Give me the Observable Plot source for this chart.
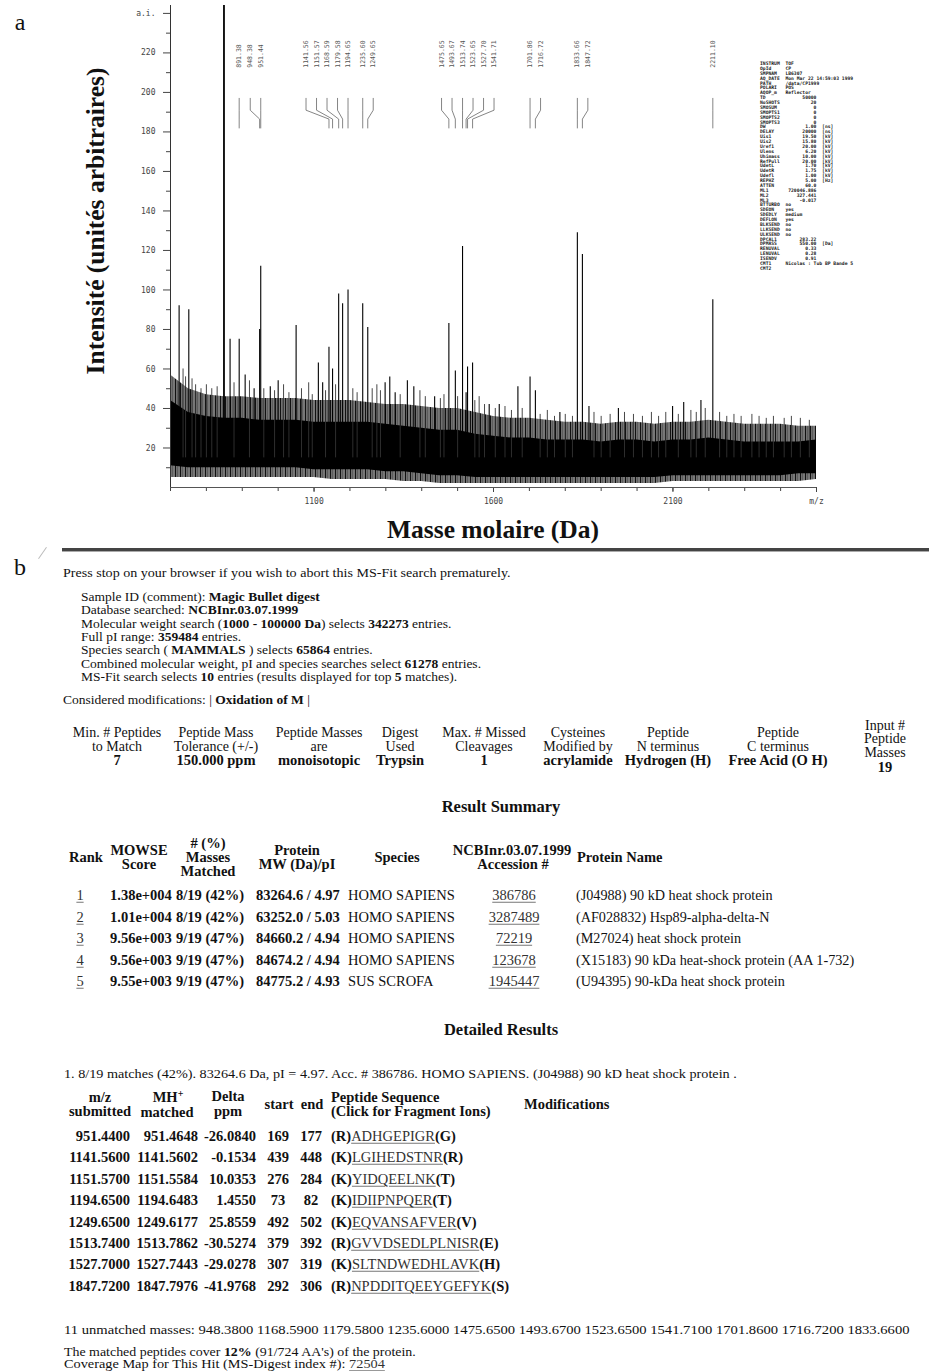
<!DOCTYPE html>
<html><head><meta charset="utf-8">
<script src="https://cdn.jsdelivr.net/npm/d3@7"></script>
<script src="https://cdn.jsdelivr.net/npm/@observablehq/plot@0.6"></script>
<style>
html,body{margin:0;padding:0;background:#fff;}
#page{position:relative;width:929px;height:1371px;overflow:hidden;background:#fff;}
.t{position:absolute;white-space:nowrap;line-height:1;font-family:"Liberation Serif","Times New Roman",serif;color:#111;}
.u{text-decoration:underline;text-decoration-color:#777;text-underline-offset:2px;color:#333;}
#instr{position:absolute;white-space:pre;font-family:"DejaVu Sans Mono",monospace;font-weight:bold;color:#222;}
</style></head>
<body><div id="page"></div>
<script>
// ---------------- Panel a : MALDI-TOF spectrum ----------------
const peakMz = [724, 751, 849, 866, 891.38, 908, 933, 948.38, 951.44, 978, 1000, 1050, 1112, 1124,
  1141.56, 1151.57, 1168.59, 1179.58, 1194.65, 1235.60, 1249.65, 1298, 1311, 1326, 1360, 1378, 1436,
  1475.65, 1493.67, 1513.74, 1523.65, 1527.70, 1541.71, 1588, 1616, 1668, 1701.86, 1716.72, 1785,
  1833.66, 1847.72, 1866, 1948, 2099, 2130, 2178, 2211.10];
const peakIntensity = [92, 90, 260, 75, 75, 57, 50, 80, 112, 51, 54, 82, 63, 53,
  71, 60, 98, 93, 100, 93, 81, 53, 56, 48, 54, 51, 46,
  83, 59, 122, 48, 61, 63, 42, 42, 51, 56, 49, 38,
  129, 118, 41, 40, 41, 43, 44, 95];
// small noise spikes standing out of the baseline band
const spikeMz = [735, 742, 760, 770, 785, 800, 815, 830, 877, 920, 960, 990, 1015, 1030, 1065, 1085, 1095,
  1132, 1160, 1208, 1220, 1262, 1275, 1285, 1340, 1395, 1410, 1452, 1462, 1500, 1548, 1560, 1575, 1605,
  1632, 1650, 1680, 1730, 1750, 1770, 1800, 1820, 1880, 1900, 1925, 1965, 1990, 2015, 2040, 2060, 2080,
  2115, 2150, 2165, 2190, 2230, 2250, 2270, 2290, 2320, 2340, 2360, 2380, 2410, 2430, 2455, 2480];
const spikeIntensity = [60, 56, 55, 52, 50, 52, 50, 51, 53, 54, 50, 49, 52, 48, 50, 53, 47,
  49, 52, 50, 48, 50, 52, 49, 47, 49, 46, 45, 47, 46, 44, 46, 42, 40,
  41, 39, 40, 37, 39, 36, 37, 36, 38, 36, 37, 38, 37, 36, 38, 36, 38,
  37, 39, 38, 40, 38, 36, 37, 36, 37, 36, 35, 36, 35, 36, 35, 34];
// envelope of the dense noise baseline
const bandMz = [700,750,800,850,900,950,1000,1050,1100,1150,1200,1250,1300,1350,1400,1450,1500,1550,1600,1650,1700,1750,1800,1850,1900,1950,2000,2050,2100,2150,2200,2250,2300,2350,2400,2450,2500];
const bandOuterHi = [57,50,47,46,46,45,45,45,44,44,44,43,42,42,41,40,40,38,36,35,35,34,33,33,32,33,33,32,33,33,34,33,32,32,32,31,31];
const bandCoreHi = [44,38,36,35,35,34,34,34,33,33,33,33,32,31,30,29,29,27,26,25,25,24,24,24,23,24,24,23,24,24,25,24,23,23,23,23,24];
const bandCoreLo = [11,10,10,10,10,10,10,10,9,9,9,9,8,8,7,6,6,5,5,5,5,5,5,5,5,5,5,5,6,6,6,6,6,6,6,7,7];
const bandOuterLo = [5,5,5,5,5,5,5,5,5,4,4,4,4,3,3,2,2,2,2,2,2,2,2,2,2,2,2,2,3,3,3,3,3,3,3,3,4];
const labelledMasses = [891.38, 948.38, 951.44, 1141.56, 1151.57, 1168.59, 1179.58, 1194.65, 1235.60, 1249.65,
  1475.65, 1493.67, 1513.74, 1523.65, 1527.70, 1541.71, 1701.86, 1716.72, 1833.66, 1847.72, 2211.10];
const xMinorTicks = [700,800,900,1000,1100,1200,1300,1400,1500,1600,1700,1800,1900,2000,2100,2200,2300,2400,2500];
const xLabelTicks = [1100, 1600, 2100, 2500];
const yMinorTicks = [10,30,50,70,90,110,130,150,170,190,210,230];
const yMajorTicks = [20,40,60,80,100,120,140,160,180,200,220,240];

const instrumentKeys = ["INSTRUM","OpId","SMPNAM","AQ_DATE","PATH","POLARI","AQOP_m","TD","NoSHOTS","SMOSUM","SMOPTS1","SMOPTS2","SMOPTS3","DW","DELAY","Uis1","Uis2","Uref1","Ulens","Uhimass","RefPull","UdetL","UdetR","Udefl","REPHZ","ATTEN","ML1","ML2","ML3","BTTURBO","SDEON","SDEDLY","DEFLON","BLKSEND","LLKSEND","ULKSEND","DPCAL1","DPMASS","RENUVAL","LENUVAL","ISENDV","CMT1","CMT2"];
const instrumentValues = ["TOF","CP","LB6307","Mon Mar 22 14:59:03 1999","/data/CP1999","POS","Reflector","50000","20","0","0","0","0","1.00","20000","19.50","15.80","20.00","6.20","10.00","20.00","1.70","1.75","1.00","5.00","60.0","720046.886","327.441","-0.017","no","yes","medium","yes","no","no","no","283.22","550.00","0.33","0.28","0.91","Nicolas : Tub BP Bande 5",""];
const instrumentUnits = ["","","","","","","","","","","","","","[ns]","[ns]","[kV]","[kV]","[kV]","[kV]","[kV]","[kV]","[kV]","[kV]","[kV]","[Hz]","","","","","","","","","","","","","[Da]","","","","",""];

// ---------------- Panel b : MS-Fit report ----------------
const searchLines = [
  "Sample ID (comment): <b>Magic Bullet digest</b>",
  "Database searched: <b>NCBInr.03.07.1999</b>",
  "Molecular weight search (<b>1000 - 100000 Da</b>) selects <b>342273</b> entries.",
  "Full pI range: <b>359484</b> entries.",
  "Species search ( <b>MAMMALS</b> ) selects <b>65864</b> entries.",
  "Combined molecular weight, pI and species searches select <b>61278</b> entries.",
  "MS-Fit search selects <b>10</b> entries (results displayed for top <b>5</b> matches)."];
const paramHeads = [["Min. # Peptides","to Match"],["Peptide Mass","Tolerance (+/-)"],["Peptide Masses","are"],["Digest","Used"],["Max. # Missed","Cleavages"],["Cysteines","Modified by"],["Peptide","N terminus"],["Peptide","C terminus"]];
const paramValues = ["7","150.000 ppm","monoisotopic","Trypsin","1","acrylamide","Hydrogen (H)","Free Acid (O H)"];
const inputHead = ["Input #","Peptide","Masses"];
const inputValue = "19";

const ranks = ["1","2","3","4","5"];
const mowse = ["1.38e+004","1.01e+004","9.56e+003","9.56e+003","9.55e+003"];
const massesMatched = ["8/19 (42%)","8/19 (42%)","9/19 (47%)","9/19 (47%)","9/19 (47%)"];
const mwPi = ["83264.6 / 4.97","63252.0 / 5.03","84660.2 / 4.94","84674.2 / 4.94","84775.2 / 4.93"];
const species = ["HOMO SAPIENS","HOMO SAPIENS","HOMO SAPIENS","HOMO SAPIENS","SUS SCROFA"];
const accession = ["386786","3287489","72219","123678","1945447"];
const proteinNames = ["(J04988) 90 kD heat shock protein","(AF028832) Hsp89-alpha-delta-N","(M27024) heat shock protein","(X15183) 90 kDa heat-shock protein (AA 1-732)","(U94395) 90-kDa heat shock protein"];

const mzSubmitted = ["951.4400","1141.5600","1151.5700","1194.6500","1249.6500","1513.7400","1527.7000","1847.7200"];
const mhMatched = ["951.4648","1141.5602","1151.5584","1194.6483","1249.6177","1513.7862","1527.7443","1847.7976"];
const deltaPpm = ["-26.0840","-0.1534","10.0353","1.4550","25.8559","-30.5274","-29.0278","-41.9768"];
const seqStart = ["169","439","276","73","492","379","307","292"];
const seqEnd = ["177","448","284","82","502","392","319","306"];
const seqBefore = ["R","K","K","K","K","R","K","R"];
const seqCore = ["ADHGEPIGR","LGIHEDSTNR","YIDQEELNK","IDIIPNPQER","EQVANSAFVER","GVVDSEDLPLNISR","SLTNDWEDHLAVK","NPDDITQEEYGEFYK"];
const seqAfter = ["G","R","T","T","V","E","H","S"];
const unmatchedMasses = ["948.3800","1168.5900","1179.5800","1235.6000","1475.6500","1493.6700","1523.6500","1541.7100","1701.8600","1716.7200","1833.6600"];

// ---------------- build spectrum ----------------
const page = document.getElementById("page");
const W = 929, H = 512, mL = 170, mR = 113, mT = 5, mB = 25;
const yTop = 244;
const peaks = peakMz.map((m, i) => ({mz: m, i: peakIntensity[i]}));
const spikes = spikeMz.map((m, i) => ({mz: m, i: spikeIntensity[i]}));
const band = bandMz.map((m, i) => ({mz: m, oh: bandOuterHi[i], ch: bandCoreHi[i], cl: bandCoreLo[i], ol: bandOuterLo[i]}));

// label placement: anchor on the most intense peak of a cluster, spread neighbours
const pxPerDa = (W - mL - mR) / (2500 - 700);
const gap = 10.5 / pxPerDa;
const labs = labelledMasses.map(m => ({mz: m, inten: peakIntensity[peakMz.indexOf(m)]}));
const clusters = []; let cur = [labs[0]];
for (let k = 1; k < labs.length; k++) {
  if (labs[k].mz - labs[k-1].mz < 2.2 * gap) cur.push(labs[k]); else { clusters.push(cur); cur = [labs[k]]; }
}
clusters.push(cur);
for (const c of clusters) {
  let a = 0; c.forEach((d, k) => { if (d.inten > c[a].inten) a = k; });
  c[a].lx = c[a].mz;
  for (let k = a + 1; k < c.length; k++) c[k].lx = Math.max(c[k].mz, c[k-1].lx + gap);
  for (let k = a - 1; k >= 0; k--) c[k].lx = Math.min(c[k].mz, c[k+1].lx - gap);
}
const leaders = [];
labs.forEach((d, k) => {
  leaders.push({id: k, x: d.lx, y: 197}, {id: k, x: d.lx, y: 191}, {id: k, x: d.mz, y: 186.5}, {id: k, x: d.mz, y: 182});
});

const chart = Plot.plot({
  width: W, height: H, marginLeft: mL, marginRight: mR, marginTop: mT, marginBottom: mB,
  x: {domain: [700, 2500]},
  y: {domain: [0, yTop]},
  style: {fontFamily: "DejaVu Sans Mono, monospace", fontSize: "8px", color: "#444", background: "transparent", overflow: "visible"},
  marks: [
    Plot.areaY(band, {x: "mz", y1: "ol", y2: "oh", fill: "url(#noisefill)"}),
    Plot.areaY(band, {x: "mz", y1: "cl", y2: "ch", fill: "#000"}),
    Plot.ruleX(spikes, {x: "mz", y1: 15, y2: "i", stroke: "#333", strokeWidth: 0.9}),
    Plot.ruleX(peaks, {x: "mz", y1: 15, y2: d => Math.min(d.i, yTop), stroke: "#000", strokeWidth: d => d.i > 200 ? 1.8 : 1.1}),
    Plot.line(leaders, {x: "x", y: "y", z: "id", stroke: "#666", strokeWidth: 0.8}),
    Plot.text(labs, {x: "lx", y: 212.5, text: d => d.mz.toFixed(2), rotate: -90, textAnchor: "start", fontSize: 6.5, fill: "#555", ariaLabel: "peaklabels"}),
    Plot.axisY(yMinorTicks, {tickSize: 4, tickFormat: () => "", label: null, stroke: "#444"}),
    Plot.axisY(yMajorTicks, {tickSize: 7, tickPadding: 8, tickFormat: d => d === 240 ? "a.i." : String(d), label: null, stroke: "#444", fill: "#444"}),
    Plot.axisX(xMinorTicks, {tickSize: 4, tickFormat: () => "", label: null, stroke: "#444"}),
    Plot.axisX(xLabelTicks, {tickSize: 5, tickPadding: 6, tickFormat: d => d === 2500 ? "m/z" : String(d), label: null, stroke: "#444", fill: "#444"}),
    Plot.ruleX([700], {stroke: "#333", strokeWidth: 1}),
    Plot.ruleY([0], {stroke: "#555", strokeWidth: 1})
  ]
});
// striped fill for the noisy fringe of the baseline band
const defs = d3.select(chart).insert("defs", ":first-child");
const pat = defs.append("pattern").attr("id", "noisefill").attr("patternUnits", "userSpaceOnUse").attr("width", 5).attr("height", 7);
pat.append("rect").attr("width", 5).attr("height", 7).attr("fill", "#9a9a9a");
pat.append("rect").attr("x", 0).attr("width", 1.3).attr("height", 7).attr("fill", "#111");
pat.append("rect").attr("x", 2.4).attr("width", 0.9).attr("height", 7).attr("fill", "#333");
pat.append("rect").attr("x", 3.9).attr("width", 0.6).attr("height", 7).attr("fill", "#555");
const holder = document.createElement("div");
holder.style.position = "absolute"; holder.style.left = "0px"; holder.style.top = "0px";
holder.appendChild(chart);
page.appendChild(holder);
d3.select(chart).selectAll('g[aria-label="peaklabels"] text').style("letter-spacing", "0.7px");

// text helper
function T(html, x, y, o = {}) {
  const d = document.createElement("div");
  d.className = "t";
  d.innerHTML = html;
  const a = o.anchor || "start";
  const tx = a === "middle" ? "-50%" : a === "end" ? "-100%" : "0";
  d.style.left = x + "px"; d.style.top = y + "px";
  d.style.fontSize = (o.size || 13.5) + "px";
  if (o.bold) d.style.fontWeight = "bold";
  if (o.color) d.style.color = o.color;
  d.style.transformOrigin = (a === "middle" ? "50%" : a === "end" ? "100%" : "0") + " 50%";
  page.appendChild(d);
  let sx = 1;
  if (o.width) sx = o.width / d.offsetWidth;
  d.style.transform = `translate(${tx},-50%) scaleX(${sx})`;
  return d;
}

// panel a titles
T("a", 20, 22, {size: 24, anchor: "middle"});
const yt = T("Intensité (unités arbitraires)", 96, 221, {size: 25.5, bold: true, anchor: "middle"});
yt.style.transformOrigin = "50% 50%";
yt.style.transform = "translate(-50%,-50%) rotate(-90deg)";
T("Masse molaire (Da)", 493, 530, {size: 25.5, bold: true, anchor: "middle"});

// instrument parameter block
const instr = document.createElement("div");
instr.id = "instr";
instr.style.left = "760px"; instr.style.top = "62px";
instr.style.fontSize = "4.7px"; instr.style.lineHeight = "4.88px";
instr.textContent = instrumentKeys.map((k, i) => {
  const v = instrumentValues[i];
  const isNum = /^-?[0-9.]+$/.test(v);
  let s = k.padEnd(9);
  if (isNum) s = (s + v.padStart(11)); else s = s + v;
  if (instrumentUnits[i]) s = s.padEnd(22) + instrumentUnits[i];
  return s;
}).join("\n");
page.appendChild(instr);

// ---------------- panel b ----------------
T("b", 20, 567, {size: 24, anchor: "middle"});
const rule = document.createElement("div");
Object.assign(rule.style, {position: "absolute", left: "62px", top: "548px", width: "867px", height: "3px", background: "#444", borderBottom: "1px solid #aaa"});
page.appendChild(rule);
const slash = document.createElement("div");
Object.assign(slash.style, {position: "absolute", left: "42px", top: "546px", width: "1px", height: "14px", background: "#bbb", transform: "rotate(35deg)"});
page.appendChild(slash);

T("Press stop on your browser if you wish to abort this MS-Fit search prematurely.", 63, 573, {width: 448});
searchLines.forEach((s, i) => T(s, 81, 597 + i * 13.3));
T("Considered modifications: | <b>Oxidation of M</b> |", 63, 700);

const paramX = [117, 216, 319, 400, 484, 578, 668, 778];
paramHeads.forEach((h, i) => {
  T(h[0], paramX[i], 733, {anchor: "middle", size: 14});
  T(h[1], paramX[i], 746.5, {anchor: "middle", size: 14});
  T(paramValues[i], paramX[i], 760, {anchor: "middle", size: 14.5, bold: true});
});
inputHead.forEach((h, i) => T(h, 885, 725.5 + i * 13.8, {anchor: "middle", size: 14}));
T(inputValue, 885, 767, {anchor: "middle", size: 14.5, bold: true});

T("Result Summary", 501, 807, {anchor: "middle", size: 16.5, bold: true});
const hs = {anchor: "middle", size: 14.5, bold: true};
T("Rank", 86, 857, hs);
T("MOWSE", 139, 850, hs); T("Score", 139, 864, hs);
T("# (%)", 208, 843, hs); T("Masses", 208, 857, hs); T("Matched", 208, 871, hs);
T("Protein", 297, 850, hs); T("MW (Da)/pI", 297, 864, hs);
T("Species", 397, 857, hs);
T("NCBInr.03.07.1999", 512, 850, hs); T("Accession #", 513, 864, hs);
T("Protein Name", 577, 857, {size: 14.5, bold: true});
ranks.forEach((r, i) => {
  const y = 895 + i * 21.5;
  T(`<span class="u">${r}</span>`, 80, y, {anchor: "middle", size: 14.5});
  T(mowse[i], 110, y, {size: 14.5, bold: true});
  T(massesMatched[i], 176, y, {size: 14.5, bold: true});
  T(mwPi[i], 256, y, {size: 14.5, bold: true});
  T(species[i], 348, y, {size: 14.5});
  T(`<span class="u">${accession[i]}</span>`, 514, y, {anchor: "middle", size: 14.5});
  T(proteinNames[i], 576, y, {size: 14.2});
});

T("Detailed Results", 501, 1030, {anchor: "middle", size: 16.5, bold: true});
T("1. 8/19 matches (42%). 83264.6 Da, pI = 4.97. Acc. # 386786. HOMO SAPIENS. (J04988) 90 kD heat shock protein .", 64, 1074, {width: 673});
const dh = {anchor: "middle", size: 14.5, bold: true};
T("m/z", 100, 1097, dh); T("submitted", 100, 1111, dh);
T('MH<span style="font-size:10px;vertical-align:5px">+</span>', 168, 1097, dh); T("matched", 167, 1112, dh);
T("Delta", 228, 1096, dh); T("ppm", 228, 1111, dh);
T("start", 279, 1104, dh); T("end", 312, 1104, dh);
T("Peptide Sequence", 331, 1097, {size: 14.5, bold: true});
T("(Click for Fragment Ions)", 331, 1111, {size: 14.5, bold: true});
T("Modifications", 524, 1104, {size: 14.5, bold: true});
mzSubmitted.forEach((m, i) => {
  const y = 1136 + i * 21.4;
  T(m, 130, y, {anchor: "end", size: 14.5, bold: true});
  T(mhMatched[i], 198, y, {anchor: "end", size: 14.5, bold: true});
  T(deltaPpm[i], 256, y, {anchor: "end", size: 14.5, bold: true});
  T(seqStart[i], 278, y, {anchor: "middle", size: 14.5, bold: true});
  T(seqEnd[i], 311, y, {anchor: "middle", size: 14.5, bold: true});
  T(`(${seqBefore[i]})<span class="u" style="font-weight:normal">${seqCore[i]}</span>(${seqAfter[i]})`, 331, y, {size: 14.5, bold: true});
});

T(`${unmatchedMasses.length} unmatched masses: ` + unmatchedMasses.join(" "), 64, 1330, {width: 845});
T("The matched peptides cover <b>12%</b> (91/724 AA's) of the protein.", 64, 1353, {size: 11.5, width: 352});
T('Coverage Map for This Hit (MS-Digest index #): <span class="u">72504</span>', 64, 1365, {size: 11.5, width: 321});
</script>
</body></html>
